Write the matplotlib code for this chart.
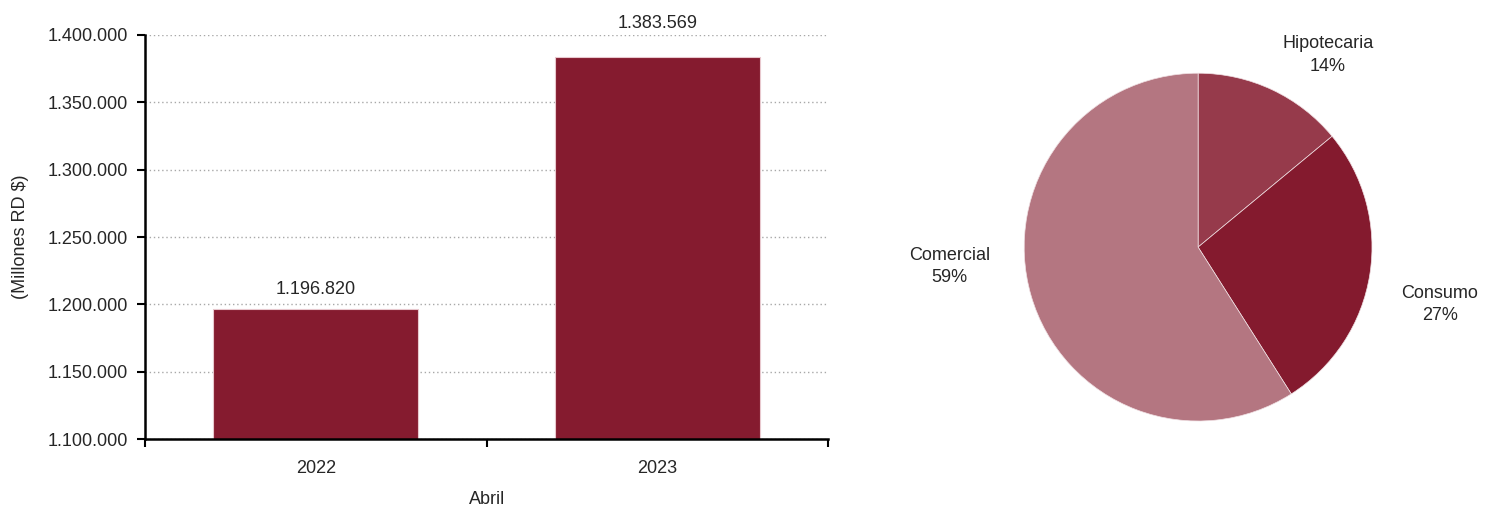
import matplotlib.pyplot as plt

plt.rcParams["font.family"] = ["Liberation Sans", "DejaVu Sans"]

years = ["2022", "2023"]
cartera = [1196820, 1383569]
yticks = [1100000, 1150000, 1200000, 1250000, 1300000, 1350000, 1400000]

sectores = ["Hipotecaria", "Consumo", "Comercial"]
participacion = [14, 27, 59]
pie_colors = ["#963A4B", "#841A2E", "#B47681"]

txt = "#262626"
fs = 13
fig = plt.figure(figsize=(14.95, 5.07), dpi=100)

# bar panel
ax = fig.add_axes([0.097, 0.134, 0.457, 0.797])
x = range(len(years))
ax.bar(x, cartera, width=0.6, color="#851B2F", edgecolor="#E8C8CE", linewidth=0.8, zorder=3)
label_offsets = [8, 18]
for xi, v, off in zip(x, cartera, label_offsets):
    lab = f"{v:,}".replace(",", ".")
    ax.annotate(lab, (xi, v), xytext=(0, off), textcoords="offset points",
                ha="center", va="bottom", fontsize=fs, color=txt,
                annotation_clip=False)
ax.set_xlim(-0.5, 1.5)
ax.set_ylim(1100000, 1400000)
ax.set_yticks(yticks)
ax.set_yticklabels([f"{t:,}".replace(",", ".") for t in yticks], fontsize=fs, color=txt)
ax.set_xticks([0, 1])
ax.set_xticklabels(years, fontsize=fs, color=txt)
ax.set_xticks([-0.5, 0.5, 1.5], minor=True)
ax.tick_params(axis="x", which="major", length=0, pad=15)
ax.tick_params(axis="x", which="minor", length=6, width=1.5, direction="out")
ax.tick_params(axis="y", length=6, width=1.5, direction="out", pad=6)
ax.grid(axis="y", linestyle=(0, (1, 2)), color="#A8A8A8", linewidth=1.0, zorder=0)
for s in ["top", "right"]:
    ax.spines[s].set_visible(False)
for s in ["left", "bottom"]:
    ax.spines[s].set_linewidth(1.8)
    ax.spines[s].set_zorder(4)
ax.set_xlabel("Abril", fontsize=fs, color=txt, labelpad=10)
ax.set_ylabel("(Millones RD $)", fontsize=fs, color=txt, labelpad=14)

# pie panel
pax = fig.add_axes([0.685, 0.1696, 0.2328, 0.686])
pax.pie(participacion, colors=pie_colors, startangle=90, counterclock=False,
        radius=1, wedgeprops=dict(edgecolor="#F0E0E3", linewidth=0.5))
label_pos = [(0.747, 1.105), (1.39, -0.33), (-1.43, -0.11)]
for name, val, (lx, ly) in zip(sectores, participacion, label_pos):
    pax.text(lx, ly, f"{name}\n{val}%", ha="center", va="center",
             fontsize=fs, color=txt, linespacing=1.4)
pax.set_xlim(-1, 1)
pax.set_ylim(-1, 1)
pax.set_aspect("equal")
pax.axis("off")

fig.savefig("out.png", dpi=100)
